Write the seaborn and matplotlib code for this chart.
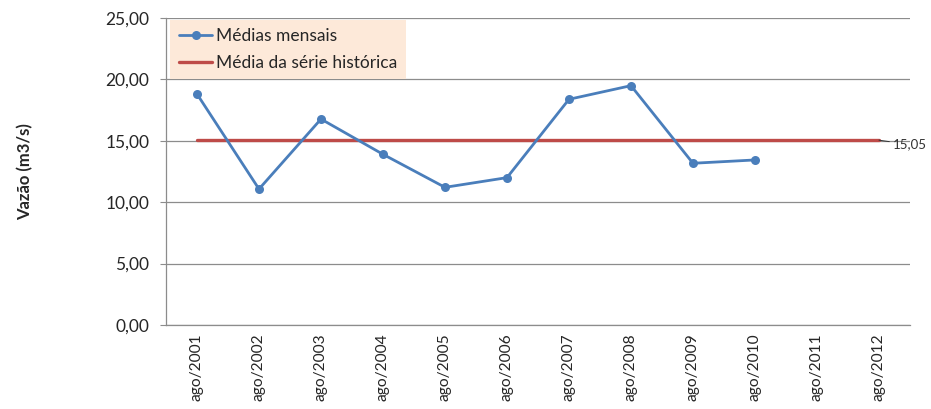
import numpy as np
import pandas as pd
import matplotlib
matplotlib.use("Agg")
import matplotlib.pyplot as plt
import seaborn as sns

# data
anos = ["ago/2001", "ago/2002", "ago/2003", "ago/2004", "ago/2005", "ago/2006",
        "ago/2007", "ago/2008", "ago/2009", "ago/2010", "ago/2011", "ago/2012"]
medias_mensais = [18.81, 11.07, 16.77, 13.90, 11.21, 12.00,
                  18.38, 19.49, 13.17, 13.44, np.nan, np.nan]
media_historica = 15.05

yticks = [0, 5, 10, 15, 20, 25]

sns.set_theme(style="white")
plt.rcParams['font.family'] = ['Lato', 'DejaVu Sans']

blue = '#4A7EBB'
red = '#BE4B48'
grid_c = '#8C8C8C'

df = pd.DataFrame({'pos': np.arange(len(anos)), 'ano': anos,
                   'media': medias_mensais,
                   'historica': [media_historica] * len(anos)})

fig = plt.figure(figsize=(9.31, 4.09), dpi=100)
ax = fig.add_axes([0.1783, 0.2054, 0.7991, 0.7506])

sns.lineplot(data=df.dropna(), x='pos', y='media', ax=ax, color=blue,
             linewidth=2.0, marker='o', markersize=6.5, markeredgewidth=0,
             label='Médias mensais', zorder=3)
sns.lineplot(data=df, x='pos', y='historica', ax=ax, color=red,
             linewidth=2.4, label='Média da série histórica', zorder=2)

ax.set_xlim(-0.5, len(anos) - 0.5)
ax.set_ylim(0, 25)
ax.set_yticks(yticks)
ax.set_yticklabels([f"{v:.2f}".replace('.', ',') for v in yticks], fontsize=12.5)
ax.set_xticks(df['pos'])
ax.set_xticklabels(anos, rotation=90, fontsize=11.2)
ax.tick_params(axis='x', length=0, pad=6)
ax.tick_params(axis='y', length=4, width=0.8, color=grid_c, left=True, pad=8)

ax.yaxis.grid(True, color=grid_c, linewidth=0.9)
ax.set_axisbelow(True)
for side in ['top', 'right']:
    ax.spines[side].set_visible(False)
for side in ['left', 'bottom']:
    ax.spines[side].set_color(grid_c)
    ax.spines[side].set_linewidth(0.9)

ax.set_xlabel('')
ax.set_ylabel('Vazão (m3/s)', fontsize=12, fontweight='bold')
ax.yaxis.set_label_coords(-0.178, 0.5)

# label for the historical mean
ax.annotate(f"{media_historica:.2f}".replace('.', ','),
            xy=(len(anos) - 1, media_historica),
            xytext=(len(anos) - 0.78, media_historica - 0.35),
            fontsize=9.5, color='#333333', va='center', ha='left',
            annotation_clip=False,
            arrowprops=dict(arrowstyle='-', color='#333333', lw=0.7,
                            shrinkA=0, shrinkB=0))

leg = ax.legend(loc='upper left', bbox_to_anchor=(0.006, 0.995), fontsize=12.5,
                frameon=True, fancybox=False, handlelength=1.9,
                borderaxespad=0, borderpad=0.5, labelspacing=0.6,
                handletextpad=0.2)
leg.get_frame().set_facecolor('#FDE9D9')
leg.get_frame().set_edgecolor('none')
leg.get_frame().set_alpha(1)

fig.savefig('out.png', dpi=100)
